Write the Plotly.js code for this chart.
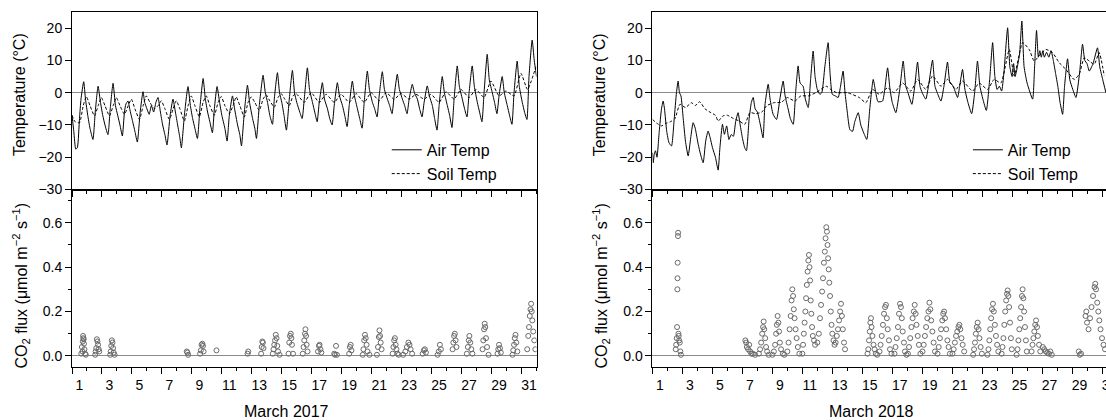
<!DOCTYPE html>
<html><head><meta charset="utf-8">
<script src="https://cdn.plot.ly/plotly-3.0.1.min.js"></script>
<style>html,body{margin:0;padding:0;overflow:hidden;background:#fff}#chart{width:1120px;height:420px}</style>
</head><body><div id="chart"></div>
<script>
// ---------- DATA ----------
const dayLabels = ['1','3','5','7','9','11','13','15','17','19','21','23','25','27','29','31'];

const airX17 = [1.0,1.12,1.25,1.36,1.5,1.6,1.78,1.9,2.05,2.2,2.4,2.55,2.74,2.9,3.05,3.2,3.4,3.55,3.74,3.9,4.05,4.2,4.36,4.5,4.6,4.74,4.85,5.05,5.2,5.36,5.55,5.74,5.85,6.0,6.15,6.3,6.45,6.6,6.74,6.9,7.05,7.2,7.34,7.55,7.74,7.9,8.05,8.2,8.3,8.5,8.74,8.9,9.05,9.2,9.37,9.55,9.75,9.9,10.05,10.2,10.37,10.5,10.68,10.85,11.0,11.2,11.35,11.5,11.71,11.85,12.05,12.2,12.31,12.5,12.71,12.85,13.05,13.2,13.31,13.5,13.75,13.9,14.05,14.2,14.38,14.5,14.71,14.85,15.0,15.15,15.31,15.5,15.71,15.85,16.0,16.2,16.36,16.5,16.71,16.85,17.05,17.2,17.36,17.5,17.71,17.85,18.05,18.2,18.36,18.5,18.71,18.85,19.05,19.2,19.36,19.5,19.71,19.85,20.05,20.2,20.36,20.5,20.71,20.85,21.05,21.2,21.36,21.5,21.71,21.85,22.05,22.2,22.36,22.5,22.71,22.85,23.05,23.2,23.36,23.5,23.71,23.85,24.05,24.2,24.36,24.5,24.71,24.85,25.05,25.2,25.36,25.5,25.71,25.85,26.05,26.2,26.36,26.5,26.71,26.85,27.05,27.2,27.36,27.5,27.71,27.85,28.05,28.2,28.36,28.5,28.71,28.85,29.05,29.2,29.36,29.5,29.71,29.85,30.05,30.2,30.36,30.5,30.71,30.85,31.05,31.2,31.36,31.5,31.71,31.85,32.0];
const airT17 = [-7,-12,-17.5,-17,-8,-2,3.4,-2,-7,-11,-14.5,-6,2.0,-3,-7,-10,-13,-5,2.9,-4,-7,-10,-13.4,-6,-3.5,-2.6,-5,-9,-12,-15.3,-6,0.3,-3,-5,-6.7,-4,-6,-3,-1.5,-6,-10,-13,-16.2,-7,-2,-6,-10,-14,-17.1,-7,1.9,-4,-8,-11,-14.2,-4,4.4,-2,-6,-9,-12.4,-5,1.9,-3,-7,-11,-15,-7,-1,-5,-10,-13,-16.5,-6,2.3,-3,-8,-11,-14.2,-4,5.4,0,-3,-7,-9.8,-2,6.2,0,-3,-7,-11.6,-2,6.9,0,-3,-6,-8,-2,7.7,1,-3,-6,-9,-3,3.1,-2,-5,-8,-10,-4,3.1,-1,-4,-7,-10.5,-4,3.6,-1,-5,-8,-11,-3,6.7,1,-3,-5,-7.5,-1,6.5,1,-2,-4,-6.5,-1,5.7,1,-2,-4,-6.5,-2,2.6,0,-2,-5,-7.5,-3,2.1,-1,-4,-8,-11.6,-4,5.0,0,-4,-7,-10.8,-2,8.3,2,-2,-5,-7.5,0,8.3,2,-3,-6,-9,0,11.9,4,0,-3,-6.5,-1,5.0,0,-4,-7,-9.8,0,9.8,2,-3,-6,-8.3,5,16.3,10,5];

const soilX17 = [1.0,1.2,1.5,1.75,1.96,2.2,2.5,2.75,2.96,3.2,3.5,3.75,3.96,4.2,4.5,4.75,4.96,5.2,5.5,5.75,5.96,6.2,6.5,6.75,6.96,7.2,7.5,7.75,7.96,8.2,8.5,8.75,8.96,9.2,9.5,9.75,9.96,10.2,10.5,10.75,10.96,11.2,11.5,11.75,11.96,12.2,12.5,12.75,12.96,13.2,13.5,13.75,13.96,14.2,14.5,14.75,14.96,15.2,15.5,15.75,15.96,16.5,16.96,17.5,17.96,18.5,18.96,19.5,19.96,20.5,20.96,21.5,21.96,22.5,22.96,23.5,23.96,24.5,24.96,25.5,25.96,26.5,26.96,27.5,27.96,28.5,28.96,29.5,29.96,30.5,30.96,31.4,31.96];
const soilT17 = [-7,-9,-9.3,-4,-1.2,-4,-7.2,-4,-1.5,-4,-7.2,-4,-1.5,-4,-6.7,-4,-2,-5,-8.3,-4,-1,-3,-5,-4,-2.5,-5,-8.3,-5,-2.5,-5,-8.8,-4,-1,-4,-7.5,-3,-1,-4,-7,-3,-1.2,-4,-6.5,-4,-1.3,-4,-7.5,-3,-1.3,-3,-5.5,-2,-0.7,-2.5,-4.5,-1.5,-0.3,-2,-4,-1,-0.3,-3,0,-3,-0.5,-3,-0.5,-3,-0.3,-3,0,-2.5,0,-2,-0.3,-2,-0.5,-2,-0.5,-3,0.3,-2,1,-1.5,1,-1.5,3.6,-1,0.5,-1,6,1,8];

const airX18 = [1.0,1.05,1.12,1.2,1.3,1.45,1.6,1.71,1.8,1.95,2.1,2.27,2.45,2.6,2.71,2.8,2.9,3.05,3.2,3.38,3.55,3.71,3.85,4.05,4.2,4.38,4.55,4.71,4.85,5.0,5.2,5.38,5.5,5.67,5.8,5.95,6.1,6.25,6.4,6.55,6.71,6.85,7.0,7.15,7.27,7.45,7.6,7.72,7.85,8.0,8.2,8.38,8.5,8.72,8.85,9.05,9.28,9.5,9.72,9.85,10.05,10.2,10.39,10.55,10.72,10.85,11.05,11.2,11.39,11.55,11.72,11.85,12.0,12.17,12.3,12.5,12.72,12.85,13.0,13.2,13.39,13.55,13.72,13.85,14.0,14.17,14.35,14.5,14.73,14.9,15.1,15.3,15.5,15.73,15.9,16.05,16.35,16.5,16.69,16.85,17.0,17.24,17.5,17.73,17.9,18.05,18.31,18.5,18.69,18.85,19.0,19.24,19.45,19.69,19.85,20.0,20.25,20.45,20.69,20.85,21.0,21.15,21.36,21.5,21.69,21.85,22.05,22.3,22.5,22.69,22.85,23.05,23.28,23.5,23.7,23.85,24.0,24.15,24.3,24.45,24.7,24.85,25.0,25.1,25.2,25.35,25.5,25.65,25.8,26.0,26.37,26.5,26.63,26.75,26.85,26.95,27.05,27.15,27.3,27.45,27.6,27.75,27.9,28.05,28.2,28.37,28.5,28.7,28.85,29.05,29.26,29.5,29.7,29.85,30.0,30.15,30.4,30.7,30.85,31.05,31.26];
const airT18 = [-18.6,-21.7,-19,-18,-20,-12,-5,-2.6,-5,-12,-15.5,-16.5,-8,0,3.6,0,-1,-8,-15,-19.6,-14,-9.3,-11,-16,-19,-21.7,-15,-11.9,-14,-17,-20,-24,-17,-9.8,-12.9,-10.3,-14.5,-13,-13.5,-9,-6.2,-10,-14,-17,-18,-8,-3,-1.5,-5,-6,-10,-14,-4,2.6,-2,-6.7,-8.3,-2,3.6,-1,-5,-8,-9.8,0,8.3,3,2,-2,-4.6,4,12.9,5,1,-0.5,0,8,15.5,6,-0.5,-1,-1.5,2,6.7,0,-6,-11.4,-12,-9,-6.2,-10,-12.5,-14.5,-5,4.1,0,-2.8,-2.6,1,7.7,1,-3,-6.2,1,9.8,2,0,-3.6,2,9.5,2,0,-2,3,10.1,2,0,-2.6,2,9.5,3,2.5,1,-1.5,2,7.2,1,-3,-6.5,0,9.8,2,-2,-5.5,4,15.5,5,1,2,0.5,6,20.1,8,5,9,5,8,12,22.2,8,3,-2,8,19.3,11,13,11,13,11,12.5,11,13,10,6,2,-3,-6.7,2,10.5,4,1,-1.5,6,15,10,9,6.7,9,13.9,8,4,0];

const soilX18 = [1.0,1.3,1.6,1.9,2.2,2.5,2.83,3.2,3.6,3.85,4.15,4.5,4.9,5.2,5.38,5.7,6.0,6.4,6.8,7.16,7.5,7.9,8.3,8.6,9.1,9.6,10.0,10.5,10.9,11.4,11.9,12.6,12.9,13.3,14.0,14.8,15.24,15.69,16.13,16.69,17.13,17.69,18.24,18.69,19.24,19.69,20.25,20.69,21.25,21.69,22.36,22.8,23.36,23.8,24.25,24.81,25.14,25.7,26.14,26.47,26.8,27.25,27.7,28.14,28.59,29.14,29.48,29.81,30.15,30.48,30.81,31.15];
const soilT18 = [-8.3,-9.5,-10.3,-9.5,-9,-8,-3.6,-4.6,-3.1,-4,-2.8,-5,-6.2,-7,-8.8,-7.2,-7,-8,-8.8,-9.8,-6.2,-6.5,-6,-4.1,-3.1,-3,-1.5,-2.6,-1,-1,0,2,1,0,0,-1.5,-3.1,1,-0.5,1.5,0,3,0.5,4.1,1,5.2,2,4.1,1,3.6,0.5,3,1,4.1,3,13.4,5.2,15.5,13.4,9.8,11.4,13.4,12.4,9.3,7.2,4.1,5.7,10.8,9.8,8.8,12.4,5.2];

const co2X17 = [1.62,1.66,1.70,1.72,1.74,1.76,1.78,1.80,1.83,1.87,1.92,
2.55,2.58,2.62,2.66,2.70,2.74,2.78,2.82,
3.55,3.58,3.62,3.66,3.70,3.74,3.78,3.84,
8.66,8.70,8.75,
9.55,9.60,9.65,9.70,9.74,9.78,
10.64,
12.72,12.76,
13.62,13.66,13.70,13.74,13.78,
14.40,14.45,14.50,14.55,14.60,14.65,14.70,14.75,14.85,
15.45,15.50,15.55,15.60,15.64,15.68,15.75,
16.40,16.45,16.50,16.55,16.58,16.62,16.66,16.72,
17.42,17.48,17.52,17.58,17.64,
18.50,18.55,18.62,18.68,
19.50,19.55,19.60,19.65,
20.40,20.45,20.50,20.55,20.60,20.66,20.72,20.85,
21.35,21.42,21.48,21.52,21.56,21.60,21.66,
22.40,22.45,22.50,22.55,22.60,22.65,22.72,22.80,
23.10,23.25,23.35,23.45,23.52,23.60,23.70,
24.40,24.48,24.55,24.62,
25.40,25.48,25.55,25.62,
26.40,26.45,26.50,26.55,26.60,26.66,
27.35,27.42,27.48,27.52,27.58,27.65,27.72,
28.40,28.45,28.50,28.54,28.58,28.63,28.70,28.80,
29.40,29.45,29.50,29.56,29.62,
30.40,30.45,30.50,30.55,30.60,30.65,30.72,
31.38,31.45,31.50,31.55,31.60,31.64,31.68,31.72,31.78,31.85,31.92];
const co2F17 = [0.01,0.04,0.02,0.065,0.09,0.08,0.075,0.055,0.03,0.01,0.005,
0.005,0.02,0.035,0.075,0.065,0.05,0.03,0.02,
0.005,0.02,0.045,0.07,0.06,0.035,0.015,0.005,
0.02,0.015,0.005,
0.01,0.025,0.05,0.055,0.045,0.02,
0.025,
0.01,0.02,
0.01,0.04,0.065,0.06,0.035,
0.01,0.03,0.05,0.07,0.095,0.08,0.045,0.02,0.005,
0.01,0.06,0.09,0.1,0.08,0.05,0.01,
0.01,0.04,0.07,0.1,0.12,0.09,0.05,0.02,
0.02,0.045,0.05,0.03,0.015,
0.01,0.005,0.045,0.005,
0.01,0.04,0.05,0.025,
0.005,0.03,0.07,0.095,0.08,0.05,0.02,0.005,
0.005,0.04,0.085,0.115,0.09,0.06,0.03,
0.01,0.04,0.07,0.08,0.05,0.03,0.01,0.005,
0.005,0.02,0.04,0.06,0.05,0.03,0.01,
0.01,0.025,0.03,0.015,
0.005,0.02,0.05,0.03,
0.03,0.06,0.09,0.1,0.07,0.04,
0.01,0.04,0.07,0.09,0.06,0.03,0.01,
0.03,0.07,0.12,0.145,0.13,0.08,0.04,0.005,
0.01,0.03,0.05,0.035,0.015,
0.005,0.025,0.05,0.08,0.095,0.06,0.02,
0.03,0.09,0.13,0.18,0.21,0.235,0.2,0.16,0.11,0.07,0.03];

const co2X18 = [2.55,2.58,2.62,2.64,2.66,2.67,2.68,2.70,2.71,2.73,2.75,2.78,2.82,2.86,2.90,
7.20,7.25,7.30,7.38,7.45,7.52,7.60,7.70,7.85,
8.10,8.18,8.25,8.32,8.38,8.42,8.46,8.52,8.58,8.65,8.75,
9.00,9.10,9.18,9.25,9.30,9.35,9.40,9.45,9.50,9.58,9.70,9.80,
10.00,10.08,10.15,10.22,10.28,10.33,10.38,10.43,10.48,10.55,10.62,10.70,10.80,
11.00,11.05,11.10,11.15,11.20,11.25,11.30,11.35,11.40,11.44,11.48,11.52,11.56,11.60,11.65,11.70,11.78,11.85,
12.00,12.10,12.18,12.25,12.32,12.38,12.44,12.50,12.55,12.60,12.64,12.68,12.72,12.76,12.80,12.85,12.90,12.95,
13.00,13.08,13.15,13.22,13.30,13.38,13.45,13.52,13.58,13.64,13.70,13.78,13.85,
15.35,15.40,15.45,15.50,15.54,15.58,15.62,15.68,15.75,15.82,15.90,16.00,
16.15,16.22,16.30,16.38,16.45,16.52,16.58,16.64,16.70,16.78,16.85,16.95,
17.15,17.22,17.30,17.38,17.45,17.52,17.58,17.64,17.70,17.78,17.85,17.95,
18.05,18.12,18.20,18.28,18.36,18.44,18.50,18.56,18.62,18.70,18.78,18.88,
19.02,19.10,19.18,19.26,19.34,19.42,19.48,19.54,19.60,19.68,19.76,19.85,
20.02,20.10,20.18,20.26,20.34,20.40,20.46,20.52,20.60,20.68,20.76,20.85,
21.02,21.10,21.18,21.26,21.34,21.42,21.48,21.54,21.62,21.70,21.80,
22.40,22.46,22.52,22.58,22.64,22.70,22.76,22.82,22.90,22.98,
23.35,23.42,23.48,23.54,23.60,23.66,23.72,23.78,23.85,23.92,24.00,24.08,
24.30,24.36,24.42,24.48,24.54,24.60,24.66,24.70,24.75,24.80,24.86,24.92,24.98,
25.30,25.36,25.42,25.48,25.54,25.60,25.66,25.70,25.75,25.80,25.86,25.92,25.98,
26.30,26.36,26.42,26.48,26.54,26.60,26.66,26.72,26.80,26.88,
27.05,27.15,27.25,27.35,27.45,27.55,27.65,
29.45,29.52,29.60,
29.90,29.95,30.00,30.10,30.20,30.30,30.40,30.50,30.55,30.60,30.68,30.75,30.82,30.90,31.00,31.10,31.20];
const co2F18 = [0.03,0.05,0.08,0.13,0.3,0.35,0.42,0.54,0.555,0.1,0.09,0.07,0.06,0.02,0.005,
0.07,0.06,0.04,0.03,0.05,0.02,0.01,0.01,0.005,
0.01,0.03,0.06,0.1,0.13,0.155,0.12,0.08,0.04,0.02,0.005,
0.005,0.02,0.05,0.1,0.14,0.18,0.15,0.11,0.06,0.03,0.01,0.005,
0.02,0.06,0.12,0.18,0.25,0.3,0.27,0.21,0.17,0.12,0.08,0.04,0.01,
0.01,0.05,0.1,0.15,0.2,0.26,0.32,0.38,0.43,0.455,0.4,0.34,0.25,0.19,0.13,0.09,0.07,0.05,
0.06,0.1,0.17,0.23,0.29,0.35,0.42,0.47,0.53,0.58,0.56,0.5,0.44,0.39,0.33,0.27,0.2,0.14,
0.1,0.07,0.05,0.06,0.09,0.12,0.16,0.2,0.235,0.18,0.12,0.06,0.03,
0.01,0.03,0.07,0.11,0.15,0.17,0.13,0.09,0.05,0.03,0.01,0.005,
0.02,0.05,0.09,0.14,0.19,0.22,0.23,0.17,0.12,0.07,0.03,0.01,
0.01,0.04,0.08,0.13,0.19,0.235,0.22,0.17,0.11,0.06,0.02,0.005,
0.01,0.04,0.08,0.13,0.17,0.2,0.23,0.19,0.14,0.09,0.05,0.01,
0.02,0.05,0.09,0.13,0.17,0.2,0.24,0.21,0.16,0.11,0.06,0.02,
0.01,0.04,0.08,0.12,0.16,0.19,0.2,0.17,0.12,0.07,0.04,0.01,
0.01,0.03,0.06,0.09,0.11,0.13,0.14,0.12,0.08,0.05,0.02,
0.005,0.03,0.06,0.1,0.13,0.15,0.12,0.08,0.04,0.01,
0.005,0.03,0.07,0.12,0.17,0.21,0.235,0.2,0.14,0.09,0.05,0.02,
0.01,0.04,0.08,0.14,0.2,0.25,0.28,0.295,0.27,0.22,0.15,0.08,0.03,
0.005,0.03,0.07,0.12,0.17,0.22,0.27,0.3,0.26,0.2,0.13,0.07,0.02,
0.02,0.05,0.08,0.11,0.14,0.16,0.13,0.09,0.05,0.02,
0.04,0.03,0.02,0.015,0.01,0.02,0.005,
0.02,0.005,0.01,
0.18,0.2,0.15,0.12,0.17,0.22,0.27,0.31,0.325,0.3,0.24,0.2,0.16,0.12,0.08,0.05,0.03];

// ---------- LAYOUT HELPERS ----------
const W = 1120, H = 420, ML = 72.3, MR = 2.9, MT = 12, MB = 52.7;
const PW = W - ML - MR, PH = H - MT - MB;
const px = v => (v - ML) / PW;
const py = v => (H - MB - v) / PH;
const FONT = 'Liberation Sans, Arial, sans-serif';
const dL = [0, 0.4445], dR = [0.5555, 1];
const labelVals = dayLabels.map(s => Number(s) + 0.5);

function dayAxis(domain, anchor) {
  return {domain, anchor, range: [1, 32], showticklabels: false,
    ticks: 'outside', tick0: 1, dtick: 2, ticklen: 6, tickwidth: 1, tickcolor: '#000',
    showline: true, linecolor: '#000', linewidth: 1, mirror: true, showgrid: false, zeroline: false,
    minor: {ticks: 'outside', tick0: 1, dtick: 1, ticklen: 3, tickwidth: 1, tickcolor: '#000', showgrid: false}};
}
function labelAxis(over, anchor) {
  return {overlaying: over, anchor, range: [1, 32], tickmode: 'array', tickvals: labelVals, ticktext: dayLabels,
    ticks: 'outside', ticklen: 5, tickcolor: 'rgba(0,0,0,0)', showline: false, showgrid: false, zeroline: false,
    tickfont: {family: FONT, size: 14, color: '#000'}};
}
function tempAxis(anchor) {
  return {domain: [0.5, 1], anchor, range: [-30, 25], tick0: -30, dtick: 10, ticks: 'outside', ticklen: 6,
    tickcolor: '#000', showline: true, linecolor: '#000', linewidth: 1, mirror: true, showgrid: false,
    zeroline: true, zerolinecolor: '#8a8a8a', zerolinewidth: 1,
    tickfont: {family: FONT, size: 14, color: '#000'}};
}
function fluxAxis(anchor) {
  return {domain: [0, 0.5], anchor, range: [-0.05, 0.75], tick0: 0, dtick: 0.2, tickformat: '.1f',
    ticks: 'outside', ticklen: 6, tickcolor: '#000', showline: true, linecolor: '#000', linewidth: 1, mirror: true,
    showgrid: false, zeroline: true, zerolinecolor: '#8a8a8a', zerolinewidth: 1,
    minor: {ticks: 'outside', tick0: 0, dtick: 0.1, ticklen: 3, tickcolor: '#000', showgrid: false},
    tickfont: {family: FONT, size: 14, color: '#000'}};
}

const airLine = {color: '#000', width: 1, shape: 'spline', smoothing: 0.5};
const soilLine = {color: '#000', width: 1, dash: '3px,2px', shape: 'spline', smoothing: 0.5};
const mk = {symbol: 'circle-open', size: 5, color: '#6a6a6a', line: {width: 1, color: '#6a6a6a'}};

const data = [
  {x: airX17, y: airT17, xaxis: 'x', yaxis: 'y', mode: 'lines', line: airLine, name: 'Air Temp', legend: 'legend', hoverinfo: 'skip'},
  {x: soilX17, y: soilT17, xaxis: 'x', yaxis: 'y', mode: 'lines', line: soilLine, name: 'Soil Temp', legend: 'legend', hoverinfo: 'skip'},
  {x: co2X17, y: co2F17, xaxis: 'x2', yaxis: 'y2', mode: 'markers', marker: mk, showlegend: false},
  {x: airX18, y: airT18, xaxis: 'x3', yaxis: 'y3', mode: 'lines', line: airLine, name: 'Air Temp', legend: 'legend2', hoverinfo: 'skip'},
  {x: soilX18, y: soilT18, xaxis: 'x3', yaxis: 'y3', mode: 'lines', line: soilLine, name: 'Soil Temp', legend: 'legend2', hoverinfo: 'skip'},
  {x: co2X18, y: co2F18, xaxis: 'x4', yaxis: 'y4', mode: 'markers', marker: mk, showlegend: false},
  {x: [], y: [], xaxis: 'x5', yaxis: 'y2', mode: 'markers', showlegend: false},
  {x: [], y: [], xaxis: 'x6', yaxis: 'y4', mode: 'markers', showlegend: false}
];

const legendBase = {xanchor: 'left', yanchor: 'top', bgcolor: 'rgba(0,0,0,0)', borderwidth: 0,
  font: {family: FONT, size: 16, color: '#000'}, tracegroupgap: 0};

function vTitle(text, xPx, yPx) {
  return {text, xref: 'paper', yref: 'paper', x: px(xPx), y: py(yPx), xanchor: 'center', yanchor: 'middle',
    textangle: -90, showarrow: false, font: {family: FONT, size: 16, color: '#000'}};
}
function hTitle(text, xPx, yPx) {
  return {text, xref: 'paper', yref: 'paper', x: px(xPx), y: py(yPx), xanchor: 'center', yanchor: 'middle',
    showarrow: false, font: {family: FONT, size: 16, color: '#000'}};
}
const co2Title = 'CO<sub>2</sub> flux (μmol m<sup>−2</sup> s<sup>−1</sup>)';

const layout = {
  width: W, height: H, margin: {l: ML, r: MR, t: MT, b: MB, pad: 0},
  paper_bgcolor: '#fff', plot_bgcolor: '#fff', font: {family: FONT, size: 14, color: '#000'},
  xaxis: dayAxis(dL, 'y'), yaxis: tempAxis('x'),
  xaxis2: dayAxis(dL, 'y2'), yaxis2: fluxAxis('x2'),
  xaxis3: dayAxis(dR, 'y3'), yaxis3: tempAxis('x3'),
  xaxis4: dayAxis(dR, 'y4'), yaxis4: fluxAxis('x4'),
  xaxis5: labelAxis('x2', 'y2'), xaxis6: labelAxis('x4', 'y4'),
  legend: Object.assign({x: px(387), y: py(133)}, legendBase),
  legend2: Object.assign({x: px(968), y: py(133)}, legendBase),
  showlegend: true,
  annotations: [
    vTitle('Temperature (°C)', 20, 94.5),
    vTitle(co2Title, 21, 286),
    vTitle('Temperature (°C)', 600, 94.5),
    vTitle(co2Title, 601, 286),
    hTitle('March 2017', 287, 412),
    hTitle('March 2018', 872, 412)
  ]
};

Plotly.newPlot('chart', data, layout, {staticPlot: true, displayModeBar: false});
</script></body></html>
